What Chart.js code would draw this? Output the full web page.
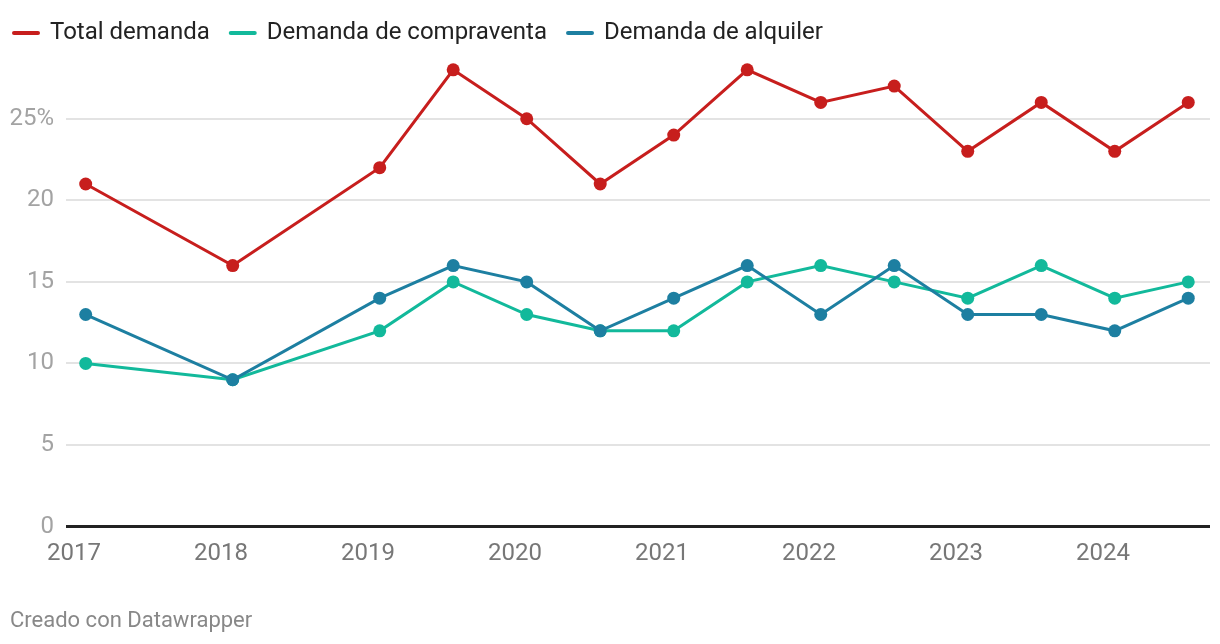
<!DOCTYPE html>
<html>
<head>
<meta charset="utf-8">
<script src="https://cdn.jsdelivr.net/npm/chart.js@4"></script>
<style>
  html, body { margin: 0; padding: 0; background: #fff; }
  #wrap { width: 1220px; height: 644px; position: relative; }
</style>
</head>
<body>
<div id="wrap"><canvas id="c"></canvas></div>
<script>
// Periods as decimal years (Feb / Aug)
const periods = [2017.08, 2018.08, 2019.08, 2019.58, 2020.08, 2020.58, 2021.08, 2021.58, 2022.08, 2022.58, 2023.08, 2023.58, 2024.08, 2024.58];
const totalDemanda = [21, 16, 22, 28, 25, 21, 24, 28, 26, 27, 23, 26, 23, 26];
const compraventa = [10, 9, 12, 15, 13, 12, 12, 15, 16, 15, 14, 16, 14, 15];
const alquiler = [13, 9, 14, 16, 15, 12, 14, 16, 13, 16, 13, 13, 12, 14];
const seriesNames = ['Total demanda', 'Demanda de compraventa', 'Demanda de alquiler'];
const yearTicks = [2017, 2018, 2019, 2020, 2021, 2022, 2023, 2024];
const yTicks = [0, 5, 10, 15, 20, 25];
const footer = 'Creado con Datawrapper';

const colors = ['#c71e1d', '#12b99b', '#1d7fa1'];
const toPts = arr => arr.map((v, i) => ({ x: periods[i], y: v }));

const mkDs = (label, data, color, order) => ({
  label, data: toPts(data), borderColor: color, backgroundColor: color,
  borderWidth: 3, pointRadius: 6.5, pointHoverRadius: 6.5, pointBorderWidth: 0,
  tension: 0, clip: false, order
});

const legendTweak = {
  id: 'legendTweak',
  beforeInit(chart) {
    const lg = chart.legend;
    const origFit = lg.fit;
    lg.fit = function () { origFit.call(this); this.height = 60; };
    const origDraw = lg.draw;
    lg.draw = function () {
      const ctx = this.ctx;
      ctx.save();
      ctx.translate(-17, 0);
      origDraw.call(this);
      ctx.restore();
    };
  }
};

new Chart(document.getElementById('c'), {
  type: 'line',
  data: {
    datasets: [
      mkDs(seriesNames[0], totalDemanda, colors[0], 3),
      mkDs(seriesNames[1], compraventa, colors[1], 2),
      mkDs(seriesNames[2], alquiler, colors[2], 1)
    ]
  },
  options: {
    responsive: true,
    maintainAspectRatio: false,
    animation: false,
    events: [],
    layout: { padding: { left: 10, right: 10, top: 0, bottom: 0 } },
    plugins: {
      tooltip: { enabled: false },
      legend: {
        position: 'top', align: 'start',
        labels: {
          usePointStyle: true, pointStyleWidth: 24, padding: 21,
          color: '#222', font: { family: 'Roboto', size: 24 },
          generateLabels(chart) {
            return chart.data.datasets.map((ds, i) => ({
              text: ds.label, fillStyle: ds.borderColor, strokeStyle: ds.borderColor,
              lineWidth: 4, lineCap: 'round', pointStyle: 'line', datasetIndex: i, fontColor: '#222'
            }));
          }
        }
      },
      subtitle: {
        display: true, text: footer, position: 'bottom', align: 'start',
        color: '#888', font: { family: 'Roboto', size: 22, weight: 'normal' },
        padding: { top: 12, bottom: 9 }
      }
    },
    scales: {
      x: {
        type: 'linear', min: 2016.946, max: 2024.728,
        afterBuildTicks(scale) { scale.ticks = yearTicks.map(v => ({ value: v })); },
        afterFit(scale) { scale.height = 70; },
        grid: { display: false, drawTicks: false },
        border: { display: false },
        ticks: {
          padding: 13, color: '#777', font: { family: 'Roboto', size: 24 },
          maxRotation: 0, autoSkip: false,
          callback: v => String(v)
        }
      },
      y: {
        min: 0, max: 28.6,
        afterBuildTicks(scale) { scale.ticks = yTicks.map(v => ({ value: v })); },
        afterFit(scale) { scale.width = 56; },
        grid: {
          drawTicks: false,
          color: ctx => ctx.tick && ctx.tick.value === 0 ? '#222' : '#e3e3e3',
          lineWidth: ctx => ctx.tick && ctx.tick.value === 0 ? 3 : 2
        },
        border: { display: false },
        ticks: {
          padding: 12, color: '#a3a3a3', font: { family: 'Roboto', size: 24 },
          callback: v => v === 25 ? v + '%' : String(v)
        }
      }
    }
  },
  plugins: [legendTweak]
});
</script>
</body>
</html>
